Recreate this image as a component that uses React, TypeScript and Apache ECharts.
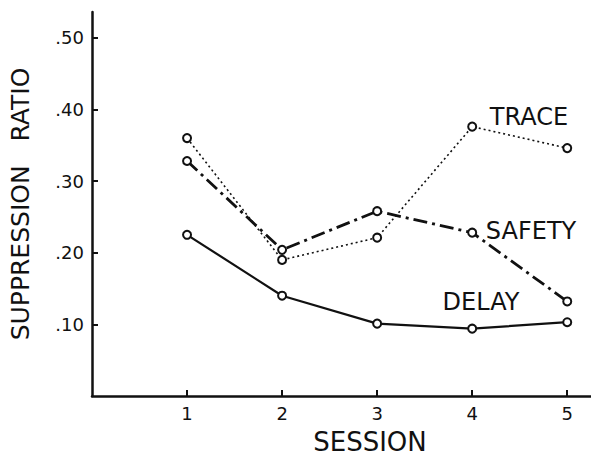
import React, { useEffect, useRef } from "react";
import * as echarts from "echarts";

const sessions = [1, 2, 3, 4, 5];
const trace = [0.36, 0.19, 0.221, 0.376, 0.346];
const safety = [0.328, 0.204, 0.258, 0.228, 0.132];
const delay = [0.225, 0.14, 0.101, 0.094, 0.103];
const yTicks = [0.1, 0.2, 0.3, 0.4, 0.5];

const font = "DejaVu Sans";

export default function App() {
  const ref = useRef<HTMLDivElement>(null);
  useEffect(() => {
    const chart = echarts.init(ref.current!, null, { renderer: "svg" });
    const mk = (name: string, vals: number[], type: any, width: number) => ({
      name,
      type: "line",
      data: sessions.map((s, i) => [s, vals[i]]),
      symbol: "circle",
      symbolSize: 8,
      itemStyle: { color: "#fff", borderColor: "#111", borderWidth: 2 },
      lineStyle: { color: "#111", width, type },
      z: 3,
    });
    const lbl = (text: string, x: number, y: number, size = 24) => ({
      type: "text",
      x,
      y,
      style: { text, font: `${size}px '${font}'`, fill: "#111", textAlign: "center", textVerticalAlign: "middle" },
    });
    chart.setOption({
      animation: false,
      backgroundColor: "#fff",
      grid: { left: 91, right: 0, top: 12, bottom: 69 },
      xAxis: {
        type: "value",
        min: 0,
        max: 5.25,
        axisLine: { show: true, lineStyle: { color: "#111", width: 2.5 } },
        axisTick: { show: true, inside: true, length: 6, lineStyle: { color: "#111", width: 2 }, customValues: sessions },
        axisLabel: { color: "#111", fontFamily: font, fontSize: 18, margin: 8, customValues: sessions },
        splitLine: { show: false },
      },
      yAxis: {
        type: "value",
        min: 0,
        max: 0.536,
        name: "SUPPRESSION\u00a0\u00a0\u00a0RATIO",
        nameLocation: "middle",
        nameRotate: 90,
        nameGap: 59,
        nameTextStyle: { color: "#111", fontFamily: font, fontSize: 25 },
        axisLine: { show: true, lineStyle: { color: "#111", width: 2.5 } },
        axisTick: { show: true, inside: true, length: 6, lineStyle: { color: "#111", width: 2 }, customValues: yTicks },
        axisLabel: {
          color: "#111",
          fontFamily: font,
          fontSize: 18,
          margin: 8,
          customValues: yTicks,
          formatter: (v: number) => v.toFixed(2).replace(/^0/, ""),
        },
        splitLine: { show: false },
      },
      graphic: [
        lbl("TRACE", 529, 117),
        lbl("SAFETY", 531, 231),
        lbl("DELAY", 481, 302),
        lbl("SESSION", 370, 442, 26),
      ],
      series: [
        mk("TRACE", trace, [2, 3], 1.6),
        mk("SAFETY", safety, [14, 5, 3, 5], 2.8),
        mk("DELAY", delay, "solid", 2.2),
      ],
    });
    return () => chart.dispose();
  }, []);
  return <div ref={ref} style={{ width: 591, height: 465, position: "absolute", left: 0, top: 0 }} />;
}
